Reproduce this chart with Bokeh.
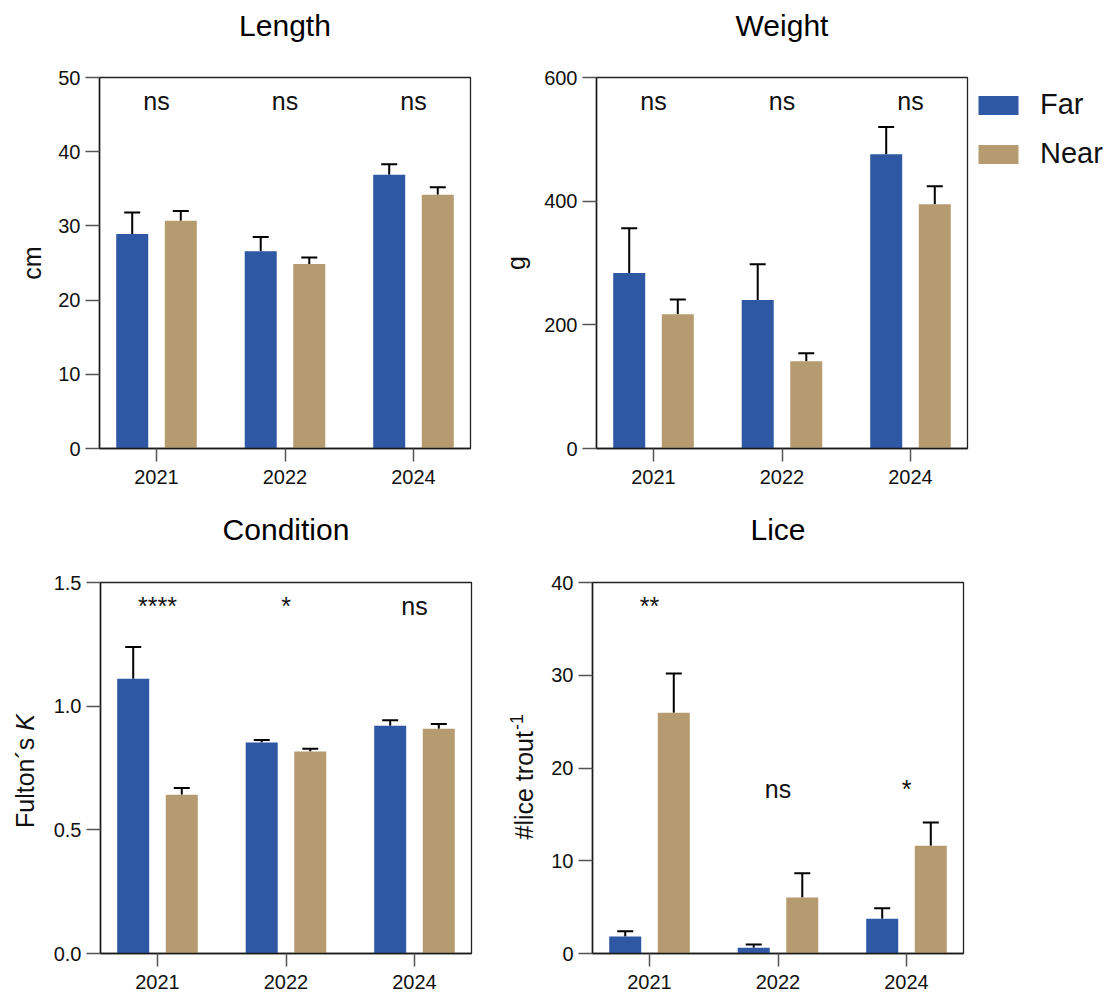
import math
from bokeh.plotting import figure
from bokeh.layouts import column, row
from bokeh.models import (ColumnDataSource, Range1d, FixedTicker, Whisker, TeeHead,
                          Legend, LegendItem, Title, PrintfTickFormatter)
from bokeh.core.properties import value
from bokeh.embed import file_html
from bokeh.resources import INLINE

# ---------------- data ----------------
years = ["2021", "2022", "2024"]
groups = ["Far", "Near"]

length_far = [28.9, 26.6, 36.9]
length_far_se = [2.9, 1.9, 1.4]
length_near = [30.7, 24.85, 34.2]
length_near_se = [1.3, 0.9, 1.0]

weight_far = [284, 240, 476]
weight_far_se = [72, 58, 44]
weight_near = [217, 141, 395]
weight_near_se = [24, 13, 29]

cond_far = [1.111, 0.853, 0.921]
cond_far_se = [0.128, 0.010, 0.022]
cond_near = [0.642, 0.817, 0.909]
cond_near_se = [0.027, 0.011, 0.019]

lice_far = [1.83, 0.61, 3.74]
lice_far_se = [0.58, 0.36, 1.14]
lice_near = [25.95, 6.04, 11.61]
lice_near_se = [4.25, 2.62, 2.51]

sig_length = ["ns", "ns", "ns"]
sig_length_y = [46.9, 46.9, 46.9]
sig_weight = ["ns", "ns", "ns"]
sig_weight_y = [562.8, 562.8, 562.8]
sig_cond = ["****", "*", "ns"]
sig_cond_y = [1.407, 1.407, 1.407]
sig_lice = ["**", "ns", "*"]
sig_lice_y = [37.5, 17.7, 17.7]

length_ticks = [0, 10, 20, 30, 40, 50]
weight_ticks = [0, 200, 400, 600]
cond_ticks = [0.0, 0.5, 1.0, 1.5]
lice_ticks = [0, 10, 20, 30, 40]

# ---------------- style ----------------
BLUE = "#2E57A4"
TAN = "#B59B6F"
FONT = "Liberation Sans"
INK = "#111111"
XPAD = 0.4436
OFF = 0.189
BAR_W = 0.249
FRAME_W = 371
FRAME_H = 371


def panel(title, ylabel, far, far_se, near, near_se, ymax, yticks, sig, sig_y,
          mb_top, mb_bottom, mb_left, mb_right, ylab_standoff=11, fmt=None,
          title_gap=23):
    p = figure(frame_width=FRAME_W, frame_height=FRAME_H,
               x_range=Range1d(-XPAD, len(years) - 1 + XPAD),
               y_range=Range1d(0, ymax),
               output_backend="svg", toolbar_location=None,
               min_border_top=mb_top, min_border_bottom=mb_bottom,
               min_border_left=mb_left, min_border_right=mb_right,
               title=None)
    p.background_fill_color = "white"
    p.border_fill_color = "white"
    p.xgrid.visible = False
    p.ygrid.visible = False
    p.outline_line_color = "#222222"
    p.outline_line_width = 1.3

    # spacer title (nearest the frame), then the real title above it
    p.add_layout(Title(text=" ", text_font_size="10px", standoff=title_gap), "above")
    p.add_layout(Title(text=title, text_font=FONT, text_font_size="30px",
                       text_font_style="normal", text_color="black",
                       align="center", standoff=0), "above")

    idx = list(range(len(years)))
    src = ColumnDataSource(dict(
        xf=[i - OFF for i in idx], xn=[i + OFF for i in idx],
        far=far, near=near,
        far_top=[m + s for m, s in zip(far, far_se)],
        near_top=[m + s for m, s in zip(near, near_se)],
    ))
    rf = p.vbar(x="xf", top="far", width=BAR_W, source=src, fill_color=BLUE, line_color=None)
    rn = p.vbar(x="xn", top="near", width=BAR_W, source=src, fill_color=TAN, line_color=None)
    for base, lo, hi in (("xf", "far", "far_top"), ("xn", "near", "near_top")):
        w = Whisker(base=base, lower=lo, upper=hi, source=src,
                    line_color="black", line_width=2,
                    upper_head=TeeHead(size=16, line_color="black", line_width=2),
                    lower_head=None)
        p.add_layout(w)

    ssrc = ColumnDataSource(dict(x=idx, y=sig_y, t=sig))
    p.text(x="x", y="y", text="t", source=ssrc, text_align="center",
           text_baseline="middle", text_font_size="25px", text_color=INK,
           text_font=value(FONT))

    p.xaxis.ticker = FixedTicker(ticks=idx)
    p.xaxis.major_label_overrides = {i: y for i, y in zip(idx, years)}
    p.yaxis.ticker = FixedTicker(ticks=yticks)
    if fmt:
        p.yaxis.formatter = PrintfTickFormatter(format=fmt)
    for ax in (p.xaxis[0], p.yaxis[0]):
        ax.axis_line_color = "#1a1a1a"
        ax.axis_line_width = 1.5
        ax.major_tick_line_color = "#555555"
        ax.major_tick_line_width = 1.5
        ax.major_tick_in = 0
        ax.minor_tick_line_color = None
        ax.major_label_text_font = FONT
        ax.major_label_text_font_size = "20px"
        ax.major_label_text_color = INK
        ax.axis_label_text_font = FONT
        ax.axis_label_text_font_size = "25px"
        ax.axis_label_text_font_style = "normal"
        ax.axis_label_text_color = INK
    p.xaxis.major_tick_out = 13
    p.xaxis.major_label_standoff = 8
    p.yaxis.major_tick_out = 14
    p.yaxis.major_label_standoff = 5
    p.yaxis.axis_label_standoff = ylab_standoff
    if ylabel:
        p.yaxis.axis_label = ylabel
    return p, rf, rn


def label_fig(width, mb_top, mb_bottom, parts):
    """Narrow strip whose frame lines up with the neighbouring plot frame; holds a
    rotated y-axis label made of several text runs.  Each run is centred at
    (x px from the strip's left, y px below the frame top)."""
    f = figure(frame_width=width, frame_height=FRAME_H,
               x_range=Range1d(0, width), y_range=Range1d(0, FRAME_H),
               output_backend="svg", toolbar_location=None, title=None,
               min_border_left=0, min_border_right=0,
               min_border_top=mb_top, min_border_bottom=mb_bottom,
               x_axis_type=None, y_axis_type=None)
    f.outline_line_color = None
    f.xgrid.visible = False
    f.ygrid.visible = False
    f.background_fill_color = "white"
    f.border_fill_color = "white"
    for x, y_local, txt, size, style in parts:
        f.text(x=[x], y=[FRAME_H - y_local], text=[txt], angle=math.pi / 2,
               text_align="center", text_baseline="middle",
               text_font=value(FONT), text_font_size=size,
               text_font_style=style, text_color=INK)
    return f


LAB3_W = 50
LAB4_W = 40

p1, _, _ = panel("Length", "cm", length_far, length_far_se, length_near, length_near_se,
                 50, length_ticks, sig_length, sig_length_y, 77, 52, 99, 29, ylab_standoff=9)
p2, rf, rn = panel("Weight", "g", weight_far, weight_far_se, weight_near, weight_near_se,
                   600, weight_ticks, sig_weight, sig_weight_y, 77, 52, 92, 146)
p3, _, _ = panel("Condition", None, cond_far, cond_far_se, cond_near, cond_near_se,
                 1.5, cond_ticks, sig_cond, sig_cond_y, 82, 44, 99 - LAB3_W, 29, fmt="%.1f",
                 title_gap=24)
p4, _, _ = panel("Lice", None, lice_far, lice_far_se, lice_near, lice_near_se,
                 40, lice_ticks, sig_lice, sig_lice_y, 82, 44, 591 - 499 - LAB4_W, 146,
                 title_gap=24)

# Legend
legend = Legend(items=[LegendItem(label=groups[0], renderers=[rf]),
                       LegendItem(label=groups[1], renderers=[rn])],
                location=(6, 278), orientation="vertical",
                border_line_color=None, background_fill_alpha=0,
                margin=0, padding=5, glyph_width=50, glyph_height=24,
                label_text_font=FONT, label_text_font_size="29px",
                label_text_color=INK, label_standoff=17, spacing=16)
p2.add_layout(legend, "right")

# rotated y-axis labels with mixed styling (bottom row)
mid = FRAME_H / 2
f_start = mid + 60                     # "Fulton´s K" starts 60px below the frame centre
lab3 = label_fig(LAB3_W, 82, 44, [
    (24, f_start - 45.2, "Fulton\u00b4s", "25px", "normal"),
    (24, f_start - 97.25 - 8.3, "K", "25px", "italic"),
])
l_start = mid + 71.5                   # "#lice trout-1" starts 71.5px below the centre
lab4 = label_fig(LAB4_W, 82, 44, [
    (23, l_start - 54.2, "#lice trout", "25px", "normal"),
    (16, l_start - 108.4 - 1 - 8, "-1", "18px", "normal"),
])

layout = column(row(p1, p2), row(lab3, p3, lab4, p4))
open("out.html", "w").write(file_html(layout, INLINE))
